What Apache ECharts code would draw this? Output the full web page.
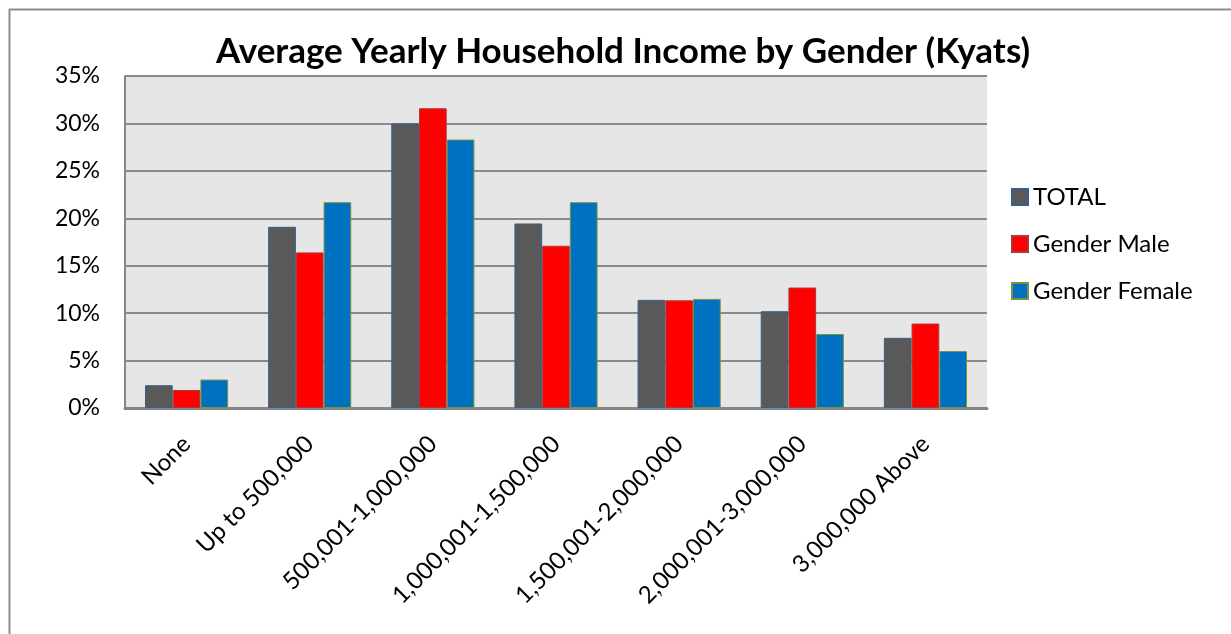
<!DOCTYPE html>
<html>
<head>
<meta charset="utf-8">
<script src="https://cdn.jsdelivr.net/npm/echarts@6/dist/echarts.min.js"></script>
<style>html,body{margin:0;padding:0;background:#fff}#c{width:1231px;height:634px}</style>
</head>
<body>
<div id="c"></div>
<script>
const categories = ['None', 'Up to 500,000', '500,001-1,000,000', '1,000,001-1,500,000', '1,500,001-2,000,000', '2,000,001-3,000,000', '3,000,000 Above'];
const totalValues = [2.4, 19.1, 30.0, 19.45, 11.4, 10.2, 7.4];
const maleValues = [1.9, 16.4, 31.6, 17.1, 11.35, 12.7, 8.9];
const femaleValues = [3.0, 21.7, 28.3, 21.7, 11.5, 7.8, 6.0];
const seriesNames = ['TOTAL', 'Gender Male', 'Gender Female'];
const yTicks = [0, 5, 10, 15, 20, 25, 30, 35];

const FONT = 'Lato';
const chart = echarts.init(document.getElementById('c'), null, {renderer: 'canvas'});
function bar(name, data, color, border) {
  return {
    name: name, type: 'bar', data: data, barGap: '0%', barCategoryGap: '32.5%',
    itemStyle: {color: color, borderColor: border, borderWidth: 1}
  };
}
chart.setOption({
  animation: false,
  backgroundColor: '#ffffff',
  textStyle: {fontFamily: FONT},
  title: {
    text: 'Average Yearly Household Income by Gender (Kyats)',
    left: 623, top: 34, padding: 0, textAlign: 'center',
    textStyle: {fontFamily: FONT, fontWeight: 'bold', fontSize: 35, color: '#000'}
  },
  legend: {
    orient: 'vertical', left: 1006, top: 180,
    itemWidth: 16, itemHeight: 16, itemGap: 23,
    icon: 'rect',
    textStyle: {fontFamily: FONT, fontSize: 24, color: '#000'},
    data: seriesNames
  },
  graphic: [{
    type: 'rect', left: 7, top: 7, z: -10,
    shape: {x: 0, y: 0, width: 1400, height: 800},
    style: {fill: 'none', stroke: '#8c8c8c', lineWidth: 2}
  }],
  grid: {
    left: 125, right: 244, top: 76, bottom: 226,
    show: true, backgroundColor: '#e6e6e6', borderWidth: 0
  },
  xAxis: {
    type: 'category', data: categories,
    axisLine: {lineStyle: {color: '#868686', width: 3}},
    axisTick: {show: false},
    axisLabel: {rotate: 45, margin: 32, interval: 0, fontFamily: FONT, fontSize: 24, color: '#000'}
  },
  yAxis: {
    type: 'value', min: yTicks[0], max: yTicks[yTicks.length - 1], interval: 5,
    axisLine: {show: true, lineStyle: {color: '#868686', width: 2}},
    axisTick: {show: false},
    splitLine: {lineStyle: {color: '#8a8a8a', width: 2}},
    axisLabel: {margin: 25, fontFamily: FONT, fontSize: 23, color: '#000', formatter: '{value}%'}
  },
  series: [
    bar(seriesNames[0], totalValues, '#595959', '#385d8a'),
    bar(seriesNames[1], maleValues, '#ff0000', '#a83b38'),
    bar(seriesNames[2], femaleValues, '#0070c0', '#77933c')
  ]
});
</script>
</body>
</html>
